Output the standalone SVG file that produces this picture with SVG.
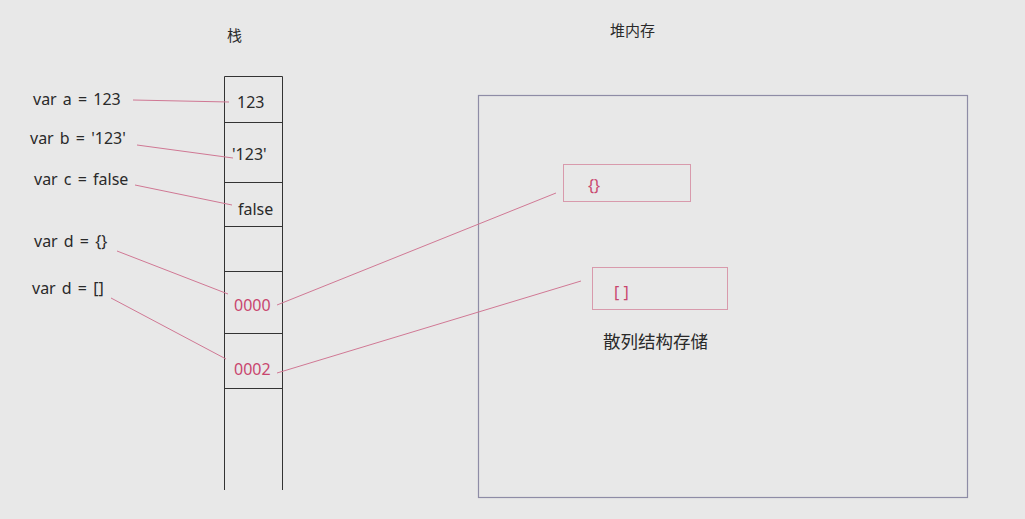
<svg xmlns="http://www.w3.org/2000/svg" width="1025" height="519" viewBox="0 0 1025 519">
<style>
.t{font-family:"Noto Sans","Noto Sans CJK SC",sans-serif;fill:#2a2a2a}
.v{font-size:16px;word-spacing:2px}
.p{fill:#c8466e}
.c{stroke:#d07894;stroke-width:1;fill:none}
.s{stroke:#333;stroke-width:1;fill:none}
</style>
<rect width="1025" height="519" fill="#e8e8e8"/>
<text class="t" x="227" y="41" font-size="15">栈</text>
<text class="t" x="610" y="36" font-size="15">堆内存</text>
<g id="stack">
<path class="s" d="M224.5 490V76.5H282.5V490"/>
<path class="s" d="M224 122.5H282M224 182.5H282M224 226.5H282M224 271.5H282M224 333.5H282M224 388.5H282"/>
</g>
<g id="vars">
<text class="t v" x="33" y="105">var a = 123</text>
<text class="t v" x="30" y="144">var b = '123'</text>
<text class="t v" x="34" y="185">var c = false</text>
<text class="t v" x="34" y="247">var d = {}</text>
<text class="t v" x="32" y="294">var d = []</text>
</g>
<g id="values">
<text class="t" x="237" y="108" font-size="16">123</text>
<text class="t" x="232" y="160" font-size="16">'123'</text>
<text class="t" x="238" y="215" font-size="16">false</text>
<text class="t p" x="234" y="311" font-size="16">0000</text>
<text class="t p" x="234" y="375" font-size="16">0002</text>
</g>
<g id="heap">
<rect x="478.5" y="95.5" width="489" height="402" fill="none" stroke="#8e8ca6" stroke-width="1.2"/>
</g>
<g id="obj">
<rect x="563.5" y="164.5" width="127" height="37" fill="none" stroke="#d89aac"/>
<text class="t p" x="588" y="191" font-size="16">{}</text>
</g>
<g id="arr">
<rect x="592.5" y="267.5" width="135" height="42" fill="none" stroke="#d89aac"/>
<text class="t p" x="614" y="298" font-size="16">[ ]</text>
</g>
<text class="t" x="603" y="348" font-size="17.5">散列结构存储</text>
<g id="connectors">
<path class="c" d="M133 100L229 102"/>
<path class="c" d="M137 145L233 158"/>
<path class="c" d="M135 185L232 205"/>
<path class="c" d="M117 251L228 294"/>
<path class="c" d="M111 298L226 359"/>
<path class="c" d="M277 305L556 193"/>
<path class="c" d="M277 373L581 281"/>
</g>
</svg>
